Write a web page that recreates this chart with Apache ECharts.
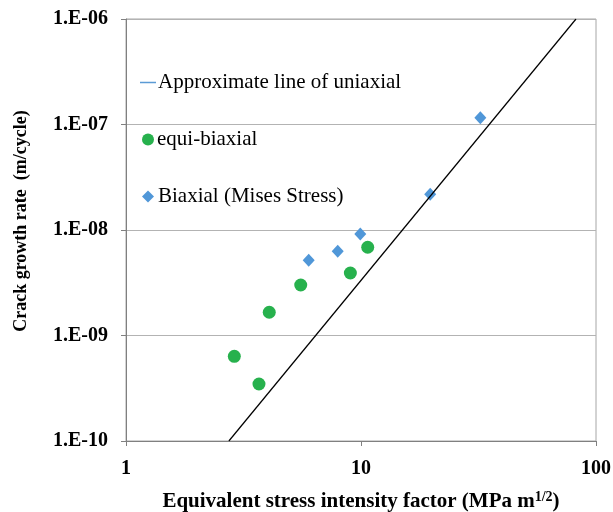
<!DOCTYPE html>
<html>
<head>
<meta charset="utf-8">
<script src="https://cdn.jsdelivr.net/npm/echarts@6/dist/echarts.min.js"></script>
<style>
  html, body { margin: 0; padding: 0; background: #fff; }
  #chart { width: 613px; height: 512px; }
</style>
</head>
<body>
<div id="chart"></div>
<script>
// equi-biaxial points [K, da/dN]
const equiK = [2.89, 3.68, 4.07, 5.54, 9.01, 10.68]
const equiRate = [6.35e-10, 3.47e-10, 1.66e-9, 3.01e-9, 3.91e-9, 6.86e-9]

// biaxial (Mises stress) points
const misesK = [5.99, 7.96, 9.93, 19.7, 32.2]
const misesRate = [5.16e-9, 6.28e-9, 9.16e-9, 2.18e-8, 1.16e-7]

// approximate uniaxial line end points
const lineK = [2.74, 82.2]
const lineRate = [1e-10, 1e-6]

const names = ['Approximate line of uniaxial', 'equi-biaxial', 'Biaxial (Mises Stress)']

const zip = (a, b) => a.map((v, i) => [v, b[i]])
const font = '"Liberation Serif", "Times New Roman", serif'
const legendText = pad => ({ fontFamily: font, fontSize: 21, color: '#000', padding: [0, 0, 0, pad] })

const option = {
  animation: false,
  textStyle: { fontFamily: font },
  grid: {
    left: 126, right: 17, top: 19, bottom: 71, show: true, borderColor: '#a6a6a6', borderWidth: 1,
    outerBoundsMode: 'none'
  },
  legend: [
    {
      data: [{ name: names[0], icon: 'rect', itemStyle: { color: '#5b9bd5' } }],
      left: 140, top: 72, padding: 0, itemWidth: 16, itemHeight: 1.5, itemGap: 0,
      textStyle: legendText(-3)
    },
    {
      data: [names[1]],
      left: 142, top: 129, padding: 0, itemWidth: 12, itemHeight: 12,
      textStyle: legendText(-2)
    },
    {
      data: [names[2]],
      left: 142, top: 186, padding: 0, itemWidth: 12, itemHeight: 12,
      textStyle: legendText(-1)
    }
  ],
  xAxis: {
    type: 'log', logBase: 10, min: 1, max: 100,
    name: '{b|Equivalent stress intensity factor (MPa m}{s|1/2}{b|)}',
    nameLocation: 'middle', nameGap: 49,
    nameTextStyle: {
      rich: {
        b: { fontFamily: font, fontSize: 21, fontWeight: 'bold', color: '#000' },
        s: { fontFamily: font, fontSize: 14, fontWeight: 'bold', color: '#000', verticalAlign: 'top', padding: [0, 0, 9, 0] }
      }
    },
    axisLine: { lineStyle: { color: '#808080' } },
    axisTick: { show: true, length: 5, lineStyle: { color: '#808080' } },
    axisLabel: { fontFamily: font, fontSize: 20, fontWeight: 'bold', color: '#000', margin: 18 },
    splitLine: { show: false },
    minorTick: { show: false }
  },
  yAxis: {
    type: 'log', logBase: 10, min: 1e-10, max: 1e-6,
    name: 'Crack growth rate  (m/cycle)',
    nameLocation: 'middle', nameGap: 96,
    nameTextStyle: { fontFamily: font, fontSize: 18, fontWeight: 'bold', color: '#000', padding: [0, 0, 0, 18] },
    axisLine: { show: true, lineStyle: { color: '#808080' } },
    axisTick: { show: true, length: 5, lineStyle: { color: '#808080' } },
    axisLabel: {
      fontFamily: font, fontSize: 20, fontWeight: 'bold', color: '#000', margin: 18,
      formatter: v => {
        const e = Math.round(Math.log10(v))
        return '1.E-' + String(-e).padStart(2, '0')
      }
    },
    splitLine: { show: true, lineStyle: { color: '#b3b3b3' } }
  },
  series: [
    {
      name: names[0], type: 'line', data: zip(lineK, lineRate),
      symbol: 'none', lineStyle: { color: '#000', width: 1.2 }, itemStyle: { color: '#5b9bd5' }
    },
    {
      name: names[1], type: 'scatter', data: zip(equiK, equiRate),
      symbol: 'circle', symbolSize: 13, itemStyle: { color: '#27b14d', opacity: 1 }
    },
    {
      name: names[2], type: 'scatter', data: zip(misesK, misesRate),
      symbol: 'diamond', symbolSize: [12, 13], itemStyle: { color: '#5097d8', opacity: 1 }
    }
  ]
}

echarts.init(document.getElementById('chart')).setOption(option)
</script>
</body>
</html>
